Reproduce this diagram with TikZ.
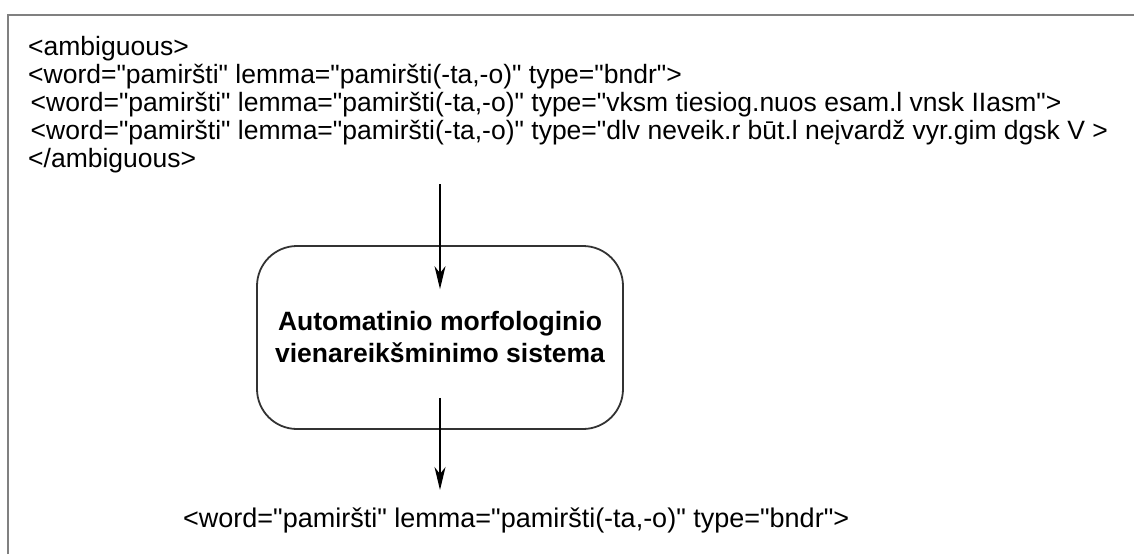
\documentclass[tikz,border=0pt]{standalone}
\usepackage{fontspec}
\setmainfont{Liberation Sans}[Ligatures=TeXOff]
\usetikzlibrary{arrows.meta}
\begin{document}
\begin{tikzpicture}[x=1pt,y=-1pt,
  codeline/.style={anchor=base west,inner sep=0pt,font=\fontsize{26.5}{30}\selectfont},
  sysbox/.style={draw=black!80,line width=1.8pt,rounded corners=40pt,
    minimum width=366pt,minimum height=183pt,align=center,
    font=\bfseries\fontsize{26.5}{32}\selectfont},
  flow/.style={line width=1.3pt,-{Stealth[length=23pt,width=11pt,inset=7pt]}}]
  \useasboundingbox (0,0) rectangle (1134,554);
  % open frame: left and top edges only
  \draw[line width=2.5pt,black!50] (8,554) -- (8,15) -- (1134,15);
  % input: ambiguous analyses
  \node[codeline] (l1) at (28,55) {<ambiguous>};
  \node[codeline] (l2) at (28,83) {<word="pamiršti" lemma="pamiršti(-ta,-o)" type="bndr">};
  \node[codeline] (l3) at (30.5,111) {<word="pamiršti" lemma="pamiršti(-ta,-o)" type="vksm tiesiog.nuos esam.l vnsk IIasm">};
  \node[codeline] (l4) at (30.5,139) {<word="pamiršti" lemma="pamiršti(-ta,-o)" type="dlv neveik.r būt.l neįvardž vyr.gim dgsk V >};
  \node[codeline] (l5) at (28,167) {</ambiguous>};
  % disambiguation system
  \node[sysbox] (box) at (440,337.5) {Automatinio morfologinio\\vienareikšminimo sistema};
  % output: chosen analysis
  \node[codeline,font=\fontsize{27}{30}\selectfont] (out) at (183,527) {<word="pamiršti" lemma="pamiršti(-ta,-o)" type="bndr">};
  % connectors
  \coordinate (in1) at (440,184);
  \coordinate (tip2) at (440,490);
  \draw[flow] (in1) -- ([yshift=-44pt]box.north);
  \draw[flow] ([yshift=32pt]box.south) -- (tip2);
\end{tikzpicture}
\end{document}
